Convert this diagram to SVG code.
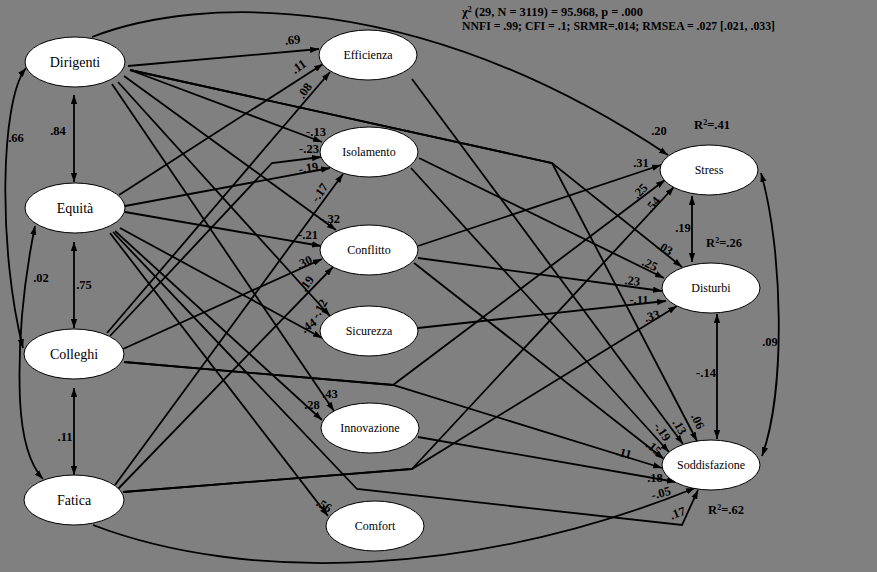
<svg xmlns="http://www.w3.org/2000/svg" width="877" height="572" viewBox="0 0 877 572">
<style>
.n ellipse{fill:#fff;stroke:#000;stroke-width:1}
.n text{font-family:"Liberation Serif","Times New Roman","DejaVu Serif",serif;font-size:12px;text-anchor:middle;fill:#000}
.n.big text{font-size:14px}
.c path{fill:none;stroke:#000;stroke-width:1.8}
.l text,.st{font-family:"Liberation Serif","Times New Roman","DejaVu Serif",serif;font-size:12.5px;font-weight:bold;text-anchor:middle;fill:#000}
.st{text-anchor:start}
</style>
<defs>
<marker id="a" viewBox="0 0 10 7" refX="10" refY="3.5" markerWidth="9" markerHeight="6.5" markerUnits="userSpaceOnUse" orient="auto-start-reverse"><path d="M0,0 L10,3.5 L0,7 z" fill="#000"/></marker>
</defs>
<rect width="877" height="572" fill="#808080"/>
<text class="st" x="462" y="16" textLength="181" lengthAdjust="spacingAndGlyphs">χ<tspan font-size="8" dy="-4">2</tspan><tspan dy="4"> (29, N = 3119) = 95.968, p = .000</tspan></text>
<text class="st" x="462" y="30" textLength="313" lengthAdjust="spacingAndGlyphs">NNFI = .99; CFI = .1; SRMR=.014; RMSEA = .027 [.021, .033]</text>
<g id="connectors" class="c" marker-end="url(#a)">
<path d="M128,66 L319,49"/>
<path d="M92,37 C200,-5 420,-10 668,155"/>
<path d="M130,70 L322,142"/>
<path d="M130,70 L552,163 L682,267"/>
<path d="M130,70 L552,163 L697,441"/>
<path d="M124,76 L336,230"/>
<path d="M118,82 L330,316"/>
<path d="M112,84 L334,411"/>
<path d="M119,195 L323,64"/>
<path d="M125,206 L330,168"/>
<path d="M125,212 L321,246"/>
<path d="M120,228 L322,338"/>
<path d="M115,231 L322,420"/>
<path d="M110,233 L328,516"/>
<path d="M113,232 L357,489 L682,525 L698,490"/>
<path d="M107,333 L330,72"/>
<path d="M110,336 L272,163 L321,157"/>
<path d="M123,349 L322,259"/>
<path d="M124,362 L393,385 L665,180"/>
<path d="M124,362 L393,385 L662,468"/>
<path d="M115,485 L343,174"/>
<path d="M118,489 L333,267"/>
<path d="M123,492 L412,469 L674,187"/>
<path d="M123,492 L412,469 L677,306"/>
<path d="M93,525 C250,585 480,575 695,488"/>
<path d="M412,79 L683,444"/>
<path d="M419,158 L664,278"/>
<path d="M411,168 L669,452"/>
<path d="M418,246 L661,165"/>
<path d="M418,258 L662,291"/>
<path d="M414,263 L664,459"/>
<path d="M418,328 L666,301"/>
<path d="M418,437 L676,482"/>
<path d="M74,95 L74,182" marker-start="url(#a)"/>
<path d="M74,242 L74,328" marker-start="url(#a)"/>
<path d="M74,388 L74,475" marker-start="url(#a)"/>
<path d="M26,68 C0,100 -2,250 23,348" marker-start="url(#a)"/>
<path d="M35,226 C22,290 18,350 20,400 C22,440 30,465 43,479" marker-start="url(#a)"/>
<path d="M692,196 L692,262" marker-start="url(#a)"/>
<path d="M717,314 L717,439" marker-start="url(#a)"/>
<path d="M761,173 C783,250 786,390 762,456" marker-start="url(#a)"/>
</g>
<g id="labels" class="l">
<text transform="translate(293,44) rotate(-6)">.69</text>
<text transform="translate(301,70) rotate(-35)">.11</text>
<text transform="translate(308,93) rotate(-55)">.08</text>
<text x="316" y="136">-.13</text>
<text x="309" y="153">-.23</text>
<text transform="translate(309,172) rotate(-8)">-.19</text>
<text transform="translate(323,195) rotate(-55)">-.17</text>
<text x="330" y="223">-.32</text>
<text x="308" y="239">-.21</text>
<text transform="translate(306,266) rotate(-25)">.30</text>
<text transform="translate(310,286) rotate(-55)">.19</text>
<text transform="translate(323,311) rotate(-60)">-.12</text>
<text transform="translate(311,329) rotate(-35)">.44</text>
<text x="330" y="398">.43</text>
<text x="312" y="409">.28</text>
<text transform="translate(322,509) rotate(30)">.56</text>
<text x="659" y="135">.20</text>
<text x="641" y="167">.31</text>
<text transform="translate(643,194) rotate(-45)">.25</text>
<text transform="translate(656,207) rotate(-50)">.54</text>
<text transform="translate(663,252) rotate(30)">.03</text>
<text transform="translate(648,268) rotate(25)">.25</text>
<text transform="translate(632,285) rotate(5)">.23</text>
<text x="639" y="304">-.11</text>
<text transform="translate(653,320) rotate(-15)">.33</text>
<text transform="translate(694,423) rotate(65)">.06</text>
<text transform="translate(676,429) rotate(60)">.13</text>
<text transform="translate(659,434) rotate(55)">-.19</text>
<text transform="translate(651,451) rotate(40)">.15</text>
<text transform="translate(623,457) rotate(15)">.11</text>
<text x="655" y="482">.18</text>
<text transform="translate(662,497) rotate(-15)">-.05</text>
<text transform="translate(679,517) rotate(-20)">.17</text>
<text x="58" y="135">.84</text>
<text x="84" y="289">.75</text>
<text x="65" y="441">.11</text>
<text x="16" y="142">.66</text>
<text x="41" y="282">.02</text>
<text x="683" y="232">.19</text>
<text x="706" y="377">-.14</text>
<text x="770" y="346">.09</text>
<text x="712" y="129">R<tspan font-size="8" dy="-4">2</tspan><tspan dy="4">=.41</tspan></text>
<text x="724" y="247">R<tspan font-size="8" dy="-4">2</tspan><tspan dy="4">=.26</tspan></text>
<text x="726" y="514">R<tspan font-size="8" dy="-4">2</tspan><tspan dy="4">=.62</tspan></text>
</g>
<g id="dirigenti" class="n big"><ellipse cx="75" cy="62" rx="50" ry="25"/><text x="75" y="67">Dirigenti</text></g>
<g id="equita" class="n big"><ellipse cx="75" cy="208" rx="50" ry="25"/><text x="75" y="213">Equità</text></g>
<g id="colleghi" class="n big"><ellipse cx="74" cy="354" rx="50" ry="25"/><text x="74" y="359">Colleghi</text></g>
<g id="fatica" class="n big"><ellipse cx="74" cy="500" rx="50" ry="25"/><text x="74" y="505">Fatica</text></g>
<g id="efficienza" class="n"><ellipse cx="368" cy="55" rx="49" ry="25"/><text x="368" y="59">Efficienza</text></g>
<g id="isolamento" class="n"><ellipse cx="369" cy="152" rx="49" ry="25"/><text x="369" y="156">Isolamento</text></g>
<g id="conflitto" class="n"><ellipse cx="369" cy="250" rx="49" ry="25"/><text x="369" y="254">Conflitto</text></g>
<g id="sicurezza" class="n"><ellipse cx="369" cy="331" rx="49" ry="25"/><text x="369" y="335">Sicurezza</text></g>
<g id="innovazione" class="n"><ellipse cx="370" cy="428" rx="49" ry="25"/><text x="370" y="432">Innovazione</text></g>
<g id="comfort" class="n"><ellipse cx="375" cy="526" rx="49" ry="25"/><text x="375" y="530">Comfort</text></g>
<g id="stress" class="n"><ellipse cx="709" cy="170" rx="49" ry="25"/><text x="709" y="174">Stress</text></g>
<g id="disturbi" class="n"><ellipse cx="711" cy="288" rx="49" ry="25"/><text x="711" y="292">Disturbi</text></g>
<g id="soddisfazione" class="n"><ellipse cx="711" cy="465" rx="49" ry="25"/><text x="711" y="469">Soddisfazione</text></g>
</svg>
